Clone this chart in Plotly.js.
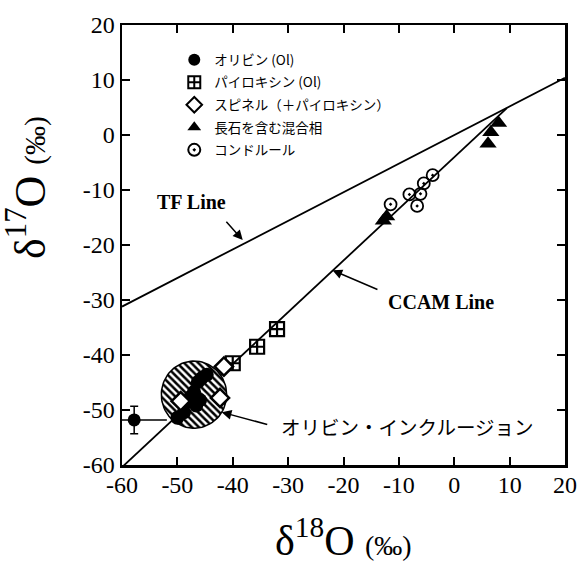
<!DOCTYPE html>
<html>
<head>
<meta charset="utf-8">
<script src="https://cdn.plot.ly/plotly-3.0.1.min.js"></script>
<style>html,body{margin:0;padding:0;background:#fff;}#plot{width:584px;height:563px;}</style>
</head>
<body>
<div id="plot"></div>
<script>
// Reference lines (endpoints)
const tfX = [-60, 20];
const tfY = [-31.2, 10.4];
const ccamX = [-60, 9.5];
const ccamY = [-60.4, 4.9];

// Olivine (filled circles)
const olX = [-44.7, -45.6, -46.3, -47.0, -47.6, -48.1, -48.8, -50.0, -45.9, -46.6];
const olY = [-43.6, -44.2, -44.9, -46.7, -47.6, -48.5, -50.4, -51.4, -48.2, -49.2];
// Olivine point with error bars
const olErrX = [-57.8];
const olErrY = [-51.8];
const olErrYerr = [2.5];
const olErrXerr = [5.9];

// Pyroxene (square-cross)
const pxX = [-32.0, -35.6, -40.0];
const pxY = [-35.3, -38.5, -41.5];

// Spinel (+pyroxene) diamonds
const spX = [-41.6, -49.4, -42.3];
const spY = [-42.1, -48.4, -47.8];

// Feldspar-bearing mixed phase (triangles)
const fdX = [-12.8, -12.2, 8.0, 6.6, 6.1];
const fdY = [-15.6, -14.8, 2.2, 0.5, -1.6];

// Chondrules
const chX = [-11.5, -8.1, -6.1, -6.7, -5.5, -3.9];
const chY = [-12.6, -10.8, -10.7, -12.9, -8.8, -7.3];

// Olivine inclusion field (hatched circle)
const incCenter = [-47.0, -47.2];
const incRadius = [5.9, 6.1];

// Tick labels
const tickVals = [-60, -50, -40, -30, -20, -10, 0, 10, 20];
const tickText = ['-60', '-50', '-40', '-30', '-20', '-10', '0', '10', '20'];

// Legend names
const names = ['オリビン (Ol)', 'パイロキシン (Ol)', 'スピネル（＋パイロキシン）', '長石を含む混合相', 'コンドルール'];

// circle outline for the hatched field
const circX = [], circY = [];
for (let i = 0; i <= 90; i++) {
  const t = 2 * Math.PI * i / 90;
  circX.push(incCenter[0] + incRadius[0] * Math.cos(t));
  circY.push(incCenter[1] + incRadius[1] * Math.sin(t));
}

const serif = 'Liberation Serif, Times New Roman, serif';
const jp = 'Noto Sans CJK JP, sans-serif';

const traces = [
  {x: tfX, y: tfY, mode: 'lines', line: {color: 'black', width: 1.8}, showlegend: false, hoverinfo: 'skip'},
  {x: ccamX, y: ccamY, mode: 'lines', line: {color: 'black', width: 1.8}, showlegend: false, hoverinfo: 'skip'},
  {x: olErrX, y: olErrY, mode: 'markers', showlegend: false,
   marker: {symbol: 'circle', size: 13, color: 'black'},
   error_y: {type: 'data', array: olErrYerr, color: 'black', thickness: 1.5, width: 4},
   error_x: {type: 'data', array: olErrXerr, color: 'black', thickness: 1.5, width: 0}},
  {x: circX, y: circY, mode: 'lines', fill: 'toself', showlegend: false, hoverinfo: 'skip',
   line: {color: 'black', width: 1.5},
   fillcolor: 'white',
   fillpattern: {shape: '\\', size: 5, solidity: 0.5, fgcolor: 'black', bgcolor: 'white'}},
  {x: olX, y: olY, mode: 'markers', name: names[0], legendgroup: 'a',
   marker: {symbol: 'circle', size: 14, color: 'black'}},
  {x: pxX, y: pxY, mode: 'markers', name: names[1], legendgroup: 'b',
   marker: {symbol: 'square-cross-open', size: 14, color: 'black', line: {width: 2.2, color: 'black'}}},
  {x: spX, y: spY, mode: 'markers', name: names[2], legendgroup: 'c',
   marker: {symbol: 'diamond', size: 14, color: 'white', line: {width: 2.5, color: 'black'}}},
  {x: fdX, y: fdY, mode: 'markers', name: names[3], legendgroup: 'd',
   marker: {symbol: 'triangle-up', size: 15, color: 'black'}},
  {x: chX, y: chY, mode: 'markers', name: names[4], legendgroup: 'e',
   marker: {symbol: 'circle-open-dot', size: 12, color: 'black', line: {width: 1.8, color: 'black'}}}
];

const axisCommon = {
  showline: true, linewidth: 2.5, linecolor: 'black', mirror: 'ticks',
  ticks: 'inside', ticklen: 8, tickwidth: 2, tickcolor: 'black',
  showgrid: false, zeroline: false,
  tickvals: tickVals, ticktext: tickText,
  tickfont: {family: serif, size: 24, color: 'black'}
};

const layout = {
  width: 584, height: 563,
  margin: {l: 122, r: 19, t: 25, b: 98},
  paper_bgcolor: 'white', plot_bgcolor: 'white',
  xaxis: Object.assign({range: [-60, 20], ticklabelstandoff: -3}, axisCommon),
  yaxis: Object.assign({range: [-60, 20], ticklabelstandoff: 0}, axisCommon),
  showlegend: true,
  legend: {x: 0.118, y: 0.956, xanchor: 'left', yanchor: 'top', bgcolor: 'rgba(0,0,0,0)',
           traceorder: 'grouped', tracegroupgap: 2,
           font: {family: jp, size: 13.5, color: 'black'}, itemsizing: 'constant'},
  annotations: [
    {xref: 'paper', yref: 'paper', x: 0.5, y: -0.165, xanchor: 'center', yanchor: 'middle', showarrow: false,
     text: 'δ<sup>18</sup>O <span style="font-size:28px">(‰)</span>', font: {family: serif, size: 42, color: 'black'}},
    {xref: 'paper', yref: 'paper', x: -0.214, y: 0.63, xanchor: 'center', yanchor: 'middle', showarrow: false, textangle: -90,
     text: 'δ<sup>17</sup>O <span style="font-size:29px">(‰)</span>', font: {family: serif, size: 44, color: 'black'}},
    {xref: 'x', yref: 'y', x: -47.5, y: -12.2, showarrow: false, text: '<b>TF Line</b>',
     font: {family: serif, size: 20, color: 'black'}},
    {xref: 'x', yref: 'y', x: -38.2, y: -19.1, axref: 'x', ayref: 'y', ax: -41.4, ay: -15.5,
     showarrow: true, arrowhead: 2, arrowsize: 1.3, arrowwidth: 1.5, arrowcolor: 'black', text: ''},
    {xref: 'x', yref: 'y', x: -2.4, y: -30.4, showarrow: false, text: '<b>CCAM Line</b>',
     font: {family: serif, size: 20, color: 'black'}},
    {xref: 'x', yref: 'y', x: -22.0, y: -24.6, axref: 'x', ayref: 'y', ax: -13.6, ay: -28.2,
     showarrow: true, arrowhead: 2, arrowsize: 1.3, arrowwidth: 1.5, arrowcolor: 'black', text: ''},
    {xref: 'x', yref: 'y', x: -31.6, y: -53.0, xanchor: 'left', showarrow: false, text: 'オリビン・インクルージョン',
     font: {family: jp, size: 19.5, color: 'black'}},
    {xref: 'x', yref: 'y', x: -42.0, y: -50.4, axref: 'x', ayref: 'y', ax: -33.5, ay: -52.7,
     showarrow: true, arrowhead: 2, arrowsize: 1.3, arrowwidth: 1.5, arrowcolor: 'black', text: ''}
  ]
};

Plotly.newPlot('plot', traces, layout, {displayModeBar: false, staticPlot: true});
</script>
</body>
</html>
